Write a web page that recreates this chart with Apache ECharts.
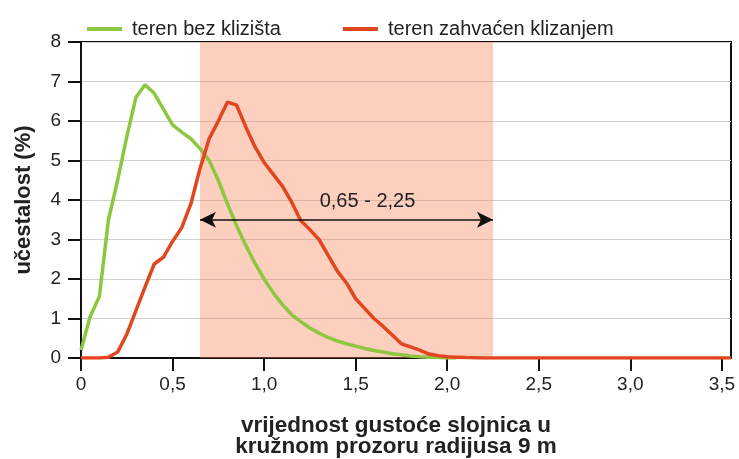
<!DOCTYPE html>
<html>
<head>
<meta charset="utf-8">
<script src="https://cdn.jsdelivr.net/npm/echarts@6/dist/echarts.min.js"></script>
<style>
  html, body { margin: 0; padding: 0; background: #fff; }
  #chart { width: 739px; height: 459px; }
</style>
</head>
<body>
<div id="chart"></div>
<script>
// Series names
const seriesNames = ['teren bez klizišta', 'teren zahvaćen klizanjem'];

// Stable terrain: contour density (x) vs frequency in % (y)
const stableX = [0, 0.05, 0.10, 0.15, 0.20, 0.25, 0.30, 0.35, 0.40, 0.45, 0.50, 0.55, 0.60, 0.65, 0.70,
  0.75, 0.80, 0.85, 0.90, 0.95, 1.00, 1.05, 1.10, 1.15, 1.20, 1.25, 1.30, 1.35, 1.40, 1.45, 1.50,
  1.55, 1.60, 1.65, 1.70, 1.75, 1.80, 1.85, 1.90, 1.95, 2.00, 2.05];
const stableY = [0.2, 1.05, 1.55, 3.5, 4.5, 5.6, 6.6, 6.92, 6.7, 6.3, 5.9, 5.72, 5.55, 5.3, 5.0,
  4.5, 3.9, 3.35, 2.85, 2.4, 2.0, 1.65, 1.35, 1.1, 0.92, 0.76, 0.63, 0.52, 0.43, 0.36, 0.3,
  0.24, 0.19, 0.15, 0.11, 0.08, 0.05, 0.03, 0.02, 0.01, 0.0, 0.0];

// Landslide terrain
const slideX = [0, 0.05, 0.10, 0.15, 0.20, 0.25, 0.30, 0.35, 0.40, 0.45, 0.50, 0.55, 0.60, 0.65, 0.70,
  0.75, 0.80, 0.85, 0.90, 0.95, 1.00, 1.05, 1.10, 1.15, 1.20, 1.25, 1.30, 1.35, 1.40, 1.45, 1.50,
  1.55, 1.60, 1.65, 1.70, 1.75, 1.80, 1.85, 1.90, 1.95, 2.00, 2.05, 2.10, 2.20, 3.55];
const slideY = [0, 0, 0, 0.02, 0.15, 0.6, 1.2, 1.8, 2.38, 2.55, 2.95, 3.3, 3.9, 4.8, 5.55,
  6.0, 6.48, 6.4, 5.85, 5.35, 4.95, 4.65, 4.35, 3.95, 3.48, 3.25, 3.0, 2.6, 2.2, 1.9, 1.5,
  1.25, 1.0, 0.8, 0.58, 0.36, 0.28, 0.2, 0.1, 0.06, 0.03, 0.02, 0.01, 0, 0];

// Axis ticks
const xTicks = [0, 0.5, 1.0, 1.5, 2.0, 2.5, 3.0, 3.5];
const yTicks = [0, 1, 2, 3, 4, 5, 6, 7, 8];

// Highlighted density range
const rangeStart = 0.65;
const rangeEnd = 2.25;
const arrowLevel = 3.5;

const FONT = "'Liberation Sans', Arial, sans-serif";
const GREEN = '#8dc63f';
const RED = '#e2461e';
const fmt = v => String(v).replace('.', ',');
const fmt1 = v => (v === 0 ? '0' : v.toFixed(1).replace('.', ','));

const chart = echarts.init(document.getElementById('chart'), null, { renderer: 'canvas' });

chart.setOption({
  animation: false,
  backgroundColor: '#fff',
  textStyle: { fontFamily: FONT },
  grid: {
    left: 81, right: 8, top: 42, bottom: 101,
    outerBoundsMode: 'none',
    containLabel: false,
    show: true, borderColor: '#111', borderWidth: 2, backgroundColor: 'transparent'
  },
  legend: {
    left: 82, top: 14,
    itemWidth: 35, itemHeight: 4, itemGap: 62,
    icon: 'rect',
    data: seriesNames,
    textStyle: { fontFamily: FONT, fontSize: 20, color: '#222', padding: [0, 0, 0, 5] }
  },
  xAxis: {
    type: 'value',
    min: 0, max: 3.55, interval: 0.5,
    name: 'vrijednost gustoće slojnica u\nkružnom prozoru radijusa 9 m',
    nameLocation: 'middle',
    nameGap: 57,
    nameTextStyle: { fontFamily: FONT, fontSize: 22.5, fontWeight: 'bold', color: '#222', lineHeight: 21, padding: [0, 20, 0, 0] },
    axisLine: { show: true, lineStyle: { color: '#111', width: 2 } },
    axisTick: { show: true, length: 13, lineStyle: { color: '#111', width: 2 }, customValues: xTicks },
    axisLabel: { margin: 17, fontSize: 19, color: '#222', formatter: fmt1, customValues: xTicks },
    splitLine: { show: false }
  },
  yAxis: {
    type: 'value',
    min: 0, max: 8, interval: 1,
    name: 'učestalost (%)',
    nameLocation: 'middle',
    nameGap: 46,
    nameTextStyle: { fontFamily: FONT, fontSize: 22, fontWeight: 'bold', color: '#222' },
    axisLine: { show: true, lineStyle: { color: '#111', width: 2 } },
    axisTick: { show: true, length: 13, lineStyle: { color: '#111', width: 2 } },
    axisLabel: { margin: 20, fontSize: 19, color: '#222', formatter: fmt },
    splitLine: { show: true, lineStyle: { color: '#cfcfcf', width: 1 } }
  },
  series: [
    {
      name: seriesNames[0],
      type: 'line',
      data: stableX.map((x, i) => [x, stableY[i]]),
      showSymbol: false,
      symbol: 'none',
      color: GREEN,
      lineStyle: { color: GREEN, width: 3.5 },
      z: 3,
      markArea: {
        silent: true,
        itemStyle: { color: 'rgba(247, 130, 85, 0.38)' },
        data: [[{ xAxis: rangeStart }, { xAxis: rangeEnd }]]
      }
    },
    {
      name: seriesNames[1],
      type: 'line',
      data: slideX.map((x, i) => [x, slideY[i]]),
      showSymbol: false,
      symbol: 'none',
      color: RED,
      lineStyle: { color: RED, width: 3.5 },
      z: 4,
      markLine: {
        silent: true,
        symbol: ['arrow', 'arrow'],
        symbolSize: [12, 16],
        lineStyle: { color: '#111', width: 1.5, type: 'solid' },
        label: {
          show: true,
          position: 'middle',
          distance: 8,
          padding: [0, 0, 0, 42],
          fontFamily: FONT,
          fontSize: 20,
          color: '#222',
          formatter: () => fmt(rangeStart) + ' - ' + fmt(rangeEnd)
        },
        data: [[{ coord: [rangeStart, arrowLevel] }, { coord: [rangeEnd, arrowLevel] }]]
      }
    }
  ]
});
</script>
</body>
</html>
